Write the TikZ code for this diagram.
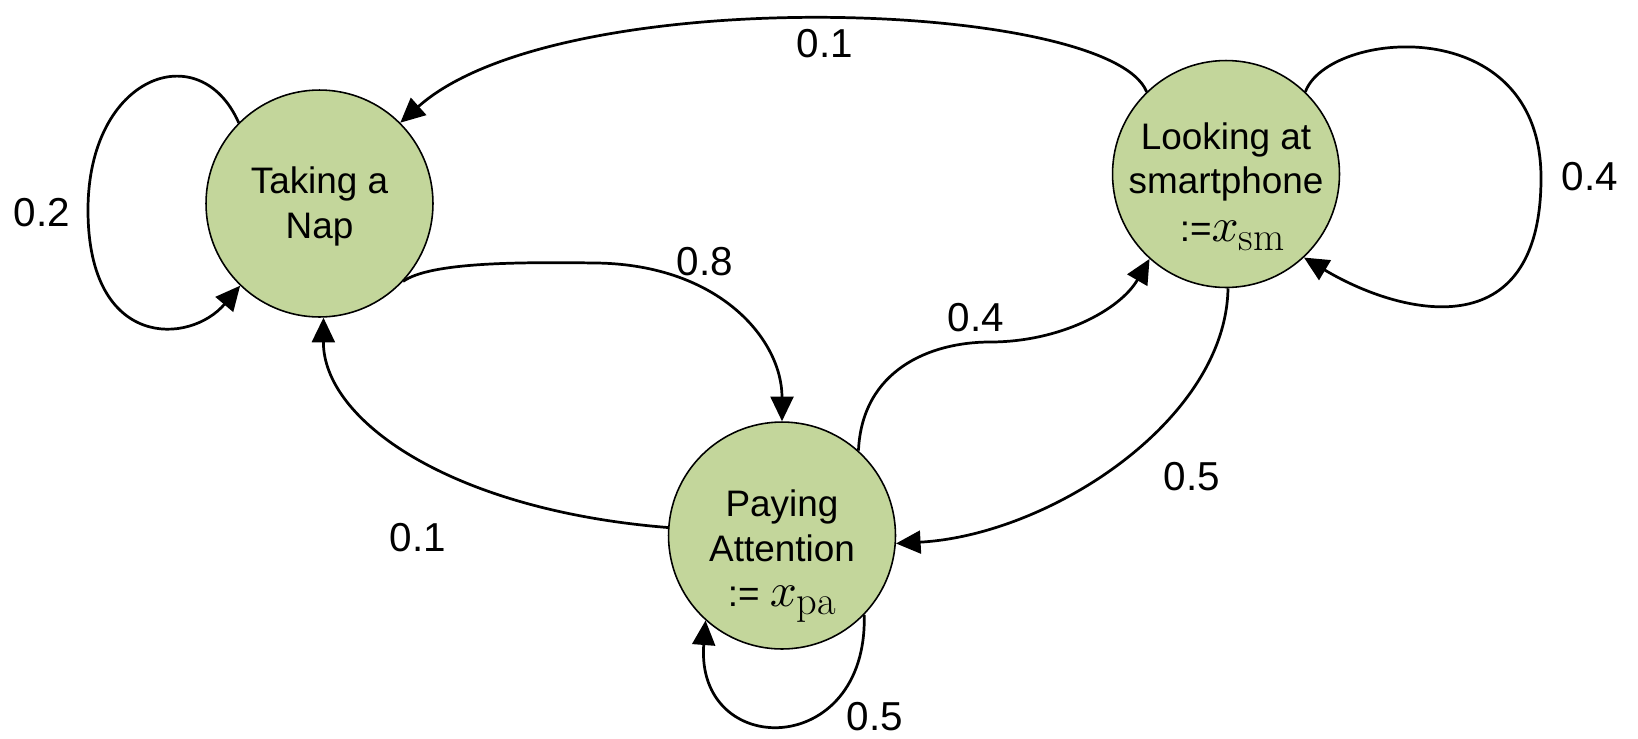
\documentclass[tikz,border=0pt]{standalone}
\usepackage{graphicx}
\usepackage{fontspec}
\setsansfont{Liberation Sans}
\usetikzlibrary{arrows.meta}
\definecolor{statefill}{HTML}{C3D69B}
% state variable: math x (10pt, scaled to 27pt) with an upright subscript
\newcommand\statevar[1]{{\fontsize{10}{10}\selectfont\scalebox{2.7}{$x$}}\raisebox{-4.7pt}{\rmfamily\fontsize{23}{23}\selectfont #1}}
\tikzset{
  state/.style={circle, draw=black, line width=0.9pt, fill=statefill,
    minimum size=4.54cm, inner sep=0pt},
  statetext/.style={align=center, inner sep=0pt,
    font=\sffamily\fontsize{21}{25.5}\selectfont},
  prob/.style={inner sep=0pt, font=\sffamily\fontsize{23}{23}\selectfont},
  trans/.style={line width=1.55pt, -{Triangle[length=14pt,width=13pt]}},
}
\begin{document}
\begin{tikzpicture}[x=0.02cm, y=-0.02cm]
\useasboundingbox (0,0) rectangle (1638,738);

% states
\node[state] (nap) at (319.5,203.5) {};
\node[state] (sm)  at (1226,174) {};
\node[state] (pa)  at (782,535.5) {};
\node[statetext] (naptext) at (319.5,206.5) {Taking a\\Nap};
\node[statetext, font=\sffamily\fontsize{21}{25}\selectfont] (smtext) at (1226,186.5)
  {Looking at\\smartphone\\[2.8pt]\hspace*{7pt}:=\statevar{sm}};
\node[statetext] (patext) at (782,556) {Paying\\Attention\\:= \statevar{pa}};

% transitions
\draw[trans] (nap.135) .. controls (200,35) and (88,75) .. (88,210)
  .. controls (88,350) and (190,345) .. (nap.226);
\draw[trans] (sm.134) .. controls (1110,0) and (560,-20) .. (nap.45);
\draw[trans] (nap.-43) .. controls (430,262) and (520,262) .. (597,263)
  .. controls (720,265) and (782,340) .. (pa.90);
\draw[trans] (pa.176) .. controls (450,510) and (323,420) .. (nap.-88);
\draw[trans] (pa.48) .. controls (862,370) and (930,342) .. (990,342)
  .. controls (1060,342) and (1120,310) .. (sm.228);
\draw[trans] (sm.-89) .. controls (1226,420) and (1050,535) .. (pa.-4);
\draw[trans] (sm.46) .. controls (1328,30) and (1541,10) .. (1541,178)
  .. controls (1541,350) and (1400,315) .. (sm.-47);
\draw[trans] (pa.-44) .. controls (868,760) and (695,760) .. (pa.-132);

% probabilities
\node[prob] (p01top) at (825,44) {0.1};
\node[prob] (p02) at (42,213) {0.2};
\node[prob] (p08) at (705,262) {0.8};
\node[prob] (p04r) at (1590,177) {0.4};
\node[prob] (p04m) at (976,318) {0.4};
\node[prob] (p05r) at (1192,477) {0.5};
\node[prob] (p01b) at (418,538) {0.1};
\node[prob] (p05b) at (875,717) {0.5};
\end{tikzpicture}
\end{document}
